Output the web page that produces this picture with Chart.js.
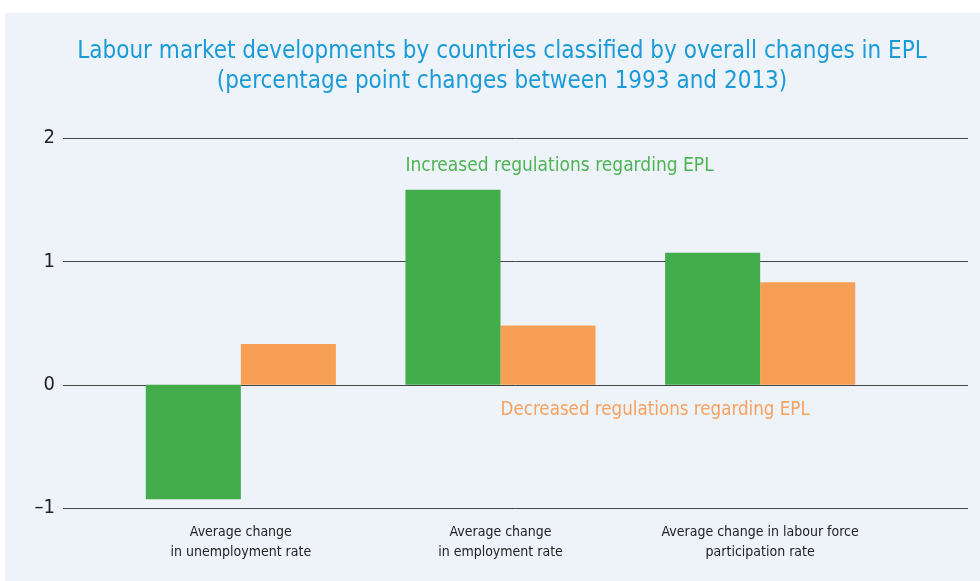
<!DOCTYPE html>
<html>
<head>
<meta charset="utf-8">
<script src="https://cdn.jsdelivr.net/npm/chart.js@4"></script>
<style>
  html, body { margin:0; padding:0; background:#fff; }
  .panel { position:absolute; left:5px; top:13px; width:975px; height:568px; background:#eef3fa; }
  canvas { display:block; }
</style>
</head>
<body>
<div class="panel"><canvas id="epl" width="975" height="568"></canvas></div>
<script>
// categories and series (percentage point changes, 1993-2013)
const categories = [
  ['Average change', 'in unemployment rate'],
  ['Average change', 'in employment rate'],
  ['Average change in labour force', 'participation rate']
];
const increased = [-0.93, 1.58, 1.07];
const decreased = [0.33, 0.48, 0.83];
const yTicks = [-1, 0, 1, 2];
const titleLines = [
  'Labour market developments by countries classified by overall changes in EPL',
  '(percentage point changes between 1993 and 2013)'
];

const NARROW = "'Liberation Sans Narrow', 'DejaVu Sans Condensed', sans-serif";
const GREEN = '#42ad4a', ORANGE = '#f89f56';

// title, full-width grid lines and the two series captions
const decor = {
  id: 'decor',
  beforeDatasetsDraw(c){
    const ctx = c.ctx, y = c.scales.y;
    ctx.save();
    ctx.strokeStyle = '#444';
    ctx.lineWidth = 1;
    yTicks.forEach(v => {
      const py = Math.round(y.getPixelForValue(v)) + 0.5;
      ctx.beginPath(); ctx.moveTo(58, py); ctx.lineTo(963, py); ctx.stroke();
    });
    ctx.restore();
  },
  afterDraw(c){
    const ctx = c.ctx;
    ctx.save();
    ctx.fillStyle = '#1a9bd7';
    ctx.textAlign = 'center';
    ctx.textBaseline = 'middle';
    ctx.font = '24px ' + NARROW;
    ctx.fillText(titleLines[0], 497, 39);
    ctx.fillText(titleLines[1], 497, 69);

    const m0 = c.getDatasetMeta(0).data[1], m1 = c.getDatasetMeta(1).data[1];
    ctx.textAlign = 'left';
    ctx.font = '19px ' + NARROW;
    ctx.fillStyle = '#4db453';
    ctx.fillText('Increased regulations regarding EPL', m0.x - m0.width/2, 153);
    ctx.font = '18.6px ' + NARROW;
    ctx.fillStyle = '#f7a15e';
    ctx.fillText('Decreased regulations regarding EPL', m1.x - m1.width/2, 397);
    ctx.restore();
  }
};

new Chart(document.getElementById('epl'), {
  type: 'bar',
  data: {
    labels: categories,
    datasets: [
      { label: 'Increased regulations regarding EPL', data: increased, backgroundColor: GREEN },
      { label: 'Decreased regulations regarding EPL', data: decreased, backgroundColor: ORANGE }
    ]
  },
  options: {
    responsive: false,
    animation: false,
    layout: { padding: { top: 125, right: 90, left: 0, bottom: 0 } },
    plugins: { legend: { display: false }, tooltip: { enabled: false }, title: { display: false } },
    datasets: { bar: { categoryPercentage: 0.732, barPercentage: 1 } },
    scales: {
      x: {
        grid: { display: false, drawTicks: false },
        border: { display: false },
        ticks: { color: '#222', font: { family: NARROW, size: 14, lineHeight: 1.45 }, padding: 14, maxRotation: 0 },
        afterFit: s => { s.height = 73; }
      },
      y: {
        min: -1, max: 2,
        afterBuildTicks: s => { s.ticks = yTicks.map(v => ({ value: v })); },
        grid: { display: false, drawTicks: false },
        border: { display: false },
        ticks: {
          color: '#222', font: { family: NARROW, size: 20 }, padding: 56,
          callback: v => v < 0 ? '\u2013' + Math.abs(v) : String(v)
        },
        afterFit: s => { s.width = 106; }
      }
    }
  },
  plugins: [decor]
});
</script>
</body>
</html>
